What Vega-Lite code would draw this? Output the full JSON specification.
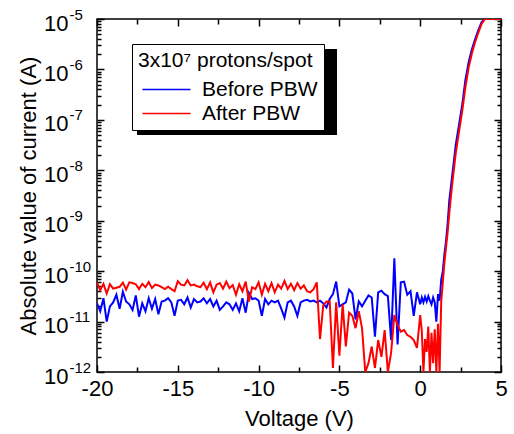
{
  "$schema": "https://vega.github.io/schema/vega-lite/v6.json",
  "width": 404,
  "height": 353,
  "autosize": {"type": "none"},
  "padding": {"left": 97, "top": 19, "right": 13, "bottom": 62},
  "background": "white",
  "config": {
    "font": "Liberation Sans",
    "view": {"stroke": "black", "strokeWidth": 1.5},
    "axis": {"grid": false, "domain": false, "labelFont": "Liberation Sans", "titleFont": "Liberation Sans", "labelColor": "black", "titleColor": "black", "tickColor": "black", "titleFontWeight": "normal", "labelOverlap": false, "labelFlush": false, "labelBound": false, "tickWidth": 1.5},
    "legend": {"labelFont": "Liberation Sans", "titleFont": "Liberation Sans"}
  },
  "data": {"values": [
    {"V":-20.0,"I":2.3e-11,"series":"Before PBW"},{"V":-19.8,"I":1.6e-11,"series":"Before PBW"},{"V":-19.6,"I":2.9e-11,"series":"Before PBW"},{"V":-19.4,"I":1.0e-11,"series":"Before PBW"},{"V":-19.2,"I":2.0e-11,"series":"Before PBW"},{"V":-19.0,"I":2.4e-11,"series":"Before PBW"},{"V":-18.8,"I":3.4e-11,"series":"Before PBW"},{"V":-18.6,"I":1.8e-11,"series":"Before PBW"},{"V":-18.4,"I":3.9e-11,"series":"Before PBW"},{"V":-18.2,"I":2.5e-11,"series":"Before PBW"},
    {"V":-18.0,"I":2.2e-11,"series":"Before PBW"},{"V":-17.8,"I":1.7e-11,"series":"Before PBW"},{"V":-17.6,"I":3.3e-11,"series":"Before PBW"},{"V":-17.4,"I":1.25e-11,"series":"Before PBW"},{"V":-17.2,"I":2.3e-11,"series":"Before PBW"},{"V":-17.0,"I":1.6e-11,"series":"Before PBW"},{"V":-16.8,"I":2.9e-11,"series":"Before PBW"},{"V":-16.6,"I":1.8e-11,"series":"Before PBW"},{"V":-16.4,"I":2.8e-11,"series":"Before PBW"},{"V":-16.2,"I":1.4e-11,"series":"Before PBW"},
    {"V":-16.0,"I":2.5e-11,"series":"Before PBW"},{"V":-15.8,"I":2.6e-11,"series":"Before PBW"},{"V":-15.6,"I":2.9e-11,"series":"Before PBW"},{"V":-15.4,"I":2.4e-11,"series":"Before PBW"},{"V":-15.2,"I":1.3e-11,"series":"Before PBW"},{"V":-15.0,"I":2.6e-11,"series":"Before PBW"},{"V":-14.8,"I":2.7e-11,"series":"Before PBW"},{"V":-14.6,"I":2.2e-11,"series":"Before PBW"},{"V":-14.4,"I":3.0e-11,"series":"Before PBW"},{"V":-14.2,"I":1.9e-11,"series":"Before PBW"},
    {"V":-14.0,"I":2.8e-11,"series":"Before PBW"},{"V":-13.8,"I":2.4e-11,"series":"Before PBW"},{"V":-13.6,"I":2.5e-11,"series":"Before PBW"},{"V":-13.4,"I":2.9e-11,"series":"Before PBW"},{"V":-13.2,"I":2.3e-11,"series":"Before PBW"},{"V":-13.0,"I":2.8e-11,"series":"Before PBW"},{"V":-12.8,"I":2.0e-11,"series":"Before PBW"},{"V":-12.6,"I":2.6e-11,"series":"Before PBW"},{"V":-12.4,"I":1.7e-11,"series":"Before PBW"},{"V":-12.2,"I":2.0e-11,"series":"Before PBW"},
    {"V":-12.0,"I":2.4e-11,"series":"Before PBW"},{"V":-11.8,"I":2.2e-11,"series":"Before PBW"},{"V":-11.6,"I":1.7e-11,"series":"Before PBW"},{"V":-11.4,"I":2.3e-11,"series":"Before PBW"},{"V":-11.2,"I":1.6e-11,"series":"Before PBW"},{"V":-11.0,"I":2.9e-11,"series":"Before PBW"},{"V":-10.8,"I":1.5e-11,"series":"Before PBW"},{"V":-10.6,"I":3.7e-11,"series":"Before PBW"},{"V":-10.4,"I":2.8e-11,"series":"Before PBW"},{"V":-10.2,"I":2.9e-11,"series":"Before PBW"},
    {"V":-10.0,"I":2.6e-11,"series":"Before PBW"},{"V":-9.8,"I":1.3e-11,"series":"Before PBW"},{"V":-9.6,"I":2.8e-11,"series":"Before PBW"},{"V":-9.4,"I":2.2e-11,"series":"Before PBW"},{"V":-9.2,"I":2.6e-11,"series":"Before PBW"},{"V":-9.0,"I":2.4e-11,"series":"Before PBW"},{"V":-8.8,"I":2.6e-11,"series":"Before PBW"},{"V":-8.6,"I":1.8e-11,"series":"Before PBW"},{"V":-8.4,"I":1.2e-11,"series":"Before PBW"},{"V":-8.2,"I":2.4e-11,"series":"Before PBW"},
    {"V":-8.0,"I":2.6e-11,"series":"Before PBW"},{"V":-7.8,"I":2.0e-11,"series":"Before PBW"},{"V":-7.6,"I":1.3e-11,"series":"Before PBW"},{"V":-7.4,"I":2.4e-11,"series":"Before PBW"},{"V":-7.2,"I":2.6e-11,"series":"Before PBW"},{"V":-7.0,"I":2.7e-11,"series":"Before PBW"},{"V":-6.8,"I":2.5e-11,"series":"Before PBW"},{"V":-6.6,"I":2.6e-11,"series":"Before PBW"},{"V":-6.4,"I":2.4e-11,"series":"Before PBW"},{"V":-6.2,"I":2.6e-11,"series":"Before PBW"},
    {"V":-6.0,"I":2.3e-11,"series":"Before PBW"},{"V":-5.8,"I":1.9e-11,"series":"Before PBW"},{"V":-5.6,"I":2.8e-11,"series":"Before PBW"},{"V":-5.4,"I":3.5e-11,"series":"Before PBW"},{"V":-5.2,"I":6.2e-11,"series":"Before PBW"},{"V":-5.0,"I":2.0e-11,"series":"Before PBW"},{"V":-4.8,"I":2.2e-11,"series":"Before PBW"},{"V":-4.6,"I":2.4e-11,"series":"Before PBW"},{"V":-4.4,"I":4.3e-11,"series":"Before PBW"},{"V":-4.2,"I":3.6e-11,"series":"Before PBW"},
    {"V":-4.0,"I":1.1e-11,"series":"Before PBW"},{"V":-3.8,"I":2.5e-11,"series":"Before PBW"},{"V":-3.6,"I":2.0e-11,"series":"Before PBW"},{"V":-3.4,"I":2.6e-11,"series":"Before PBW"},{"V":-3.2,"I":3.3e-11,"series":"Before PBW"},{"V":-3.0,"I":3.0e-11,"series":"Before PBW"},{"V":-2.8,"I":5.0e-12,"series":"Before PBW"},{"V":-2.6,"I":3.8e-11,"series":"Before PBW"},{"V":-2.4,"I":4.1e-11,"series":"Before PBW"},{"V":-2.2,"I":3.5e-11,"series":"Before PBW"},
    {"V":-2.0,"I":3.2e-11,"series":"Before PBW"},{"V":-1.8,"I":4.3e-12,"series":"Before PBW"},{"V":-1.6,"I":1.8e-10,"series":"Before PBW"},{"V":-1.4,"I":3.5e-12,"series":"Before PBW"},{"V":-1.2,"I":6.0e-11,"series":"Before PBW"},{"V":-1.0,"I":6.2e-11,"series":"Before PBW"},{"V":-0.8,"I":3.4e-11,"series":"Before PBW"},{"V":-0.6,"I":4.0e-11,"series":"Before PBW"},{"V":-0.4,"I":1.3e-11,"series":"Before PBW"},{"V":-0.2,"I":3.8e-11,"series":"Before PBW"},
    {"V":0.0,"I":2.2e-11,"series":"Before PBW"},{"V":0.1,"I":3.0e-11,"series":"Before PBW"},{"V":0.2,"I":2.4e-11,"series":"Before PBW"},{"V":0.3,"I":3.1e-11,"series":"Before PBW"},{"V":0.4,"I":2.5e-11,"series":"Before PBW"},{"V":0.5,"I":3.2e-11,"series":"Before PBW"},{"V":0.6,"I":2.6e-11,"series":"Before PBW"},{"V":0.7,"I":2.2e-11,"series":"Before PBW"},{"V":0.8,"I":3.0e-11,"series":"Before PBW"},{"V":0.9,"I":2.4e-11,"series":"Before PBW"},
    {"V":1.0,"I":1.0e-11,"series":"Before PBW"},{"V":1.1,"I":3.5e-11,"series":"Before PBW"},{"V":1.2,"I":2.6e-11,"series":"Before PBW"},{"V":1.3,"I":6.7e-11,"series":"Before PBW"},{"V":1.4,"I":1.0e-10,"series":"Before PBW"},{"V":1.5,"I":2.2e-10,"series":"Before PBW"},{"V":1.6,"I":4.0e-10,"series":"Before PBW"},{"V":1.7,"I":8.9e-10,"series":"Before PBW"},{"V":1.8,"I":2.5e-9,"series":"Before PBW"},{"V":2.0,"I":8.9e-9,"series":"Before PBW"},
    {"V":2.2,"I":3.2e-8,"series":"Before PBW"},{"V":2.4,"I":7.9e-8,"series":"Before PBW"},{"V":2.6,"I":2.0e-7,"series":"Before PBW"},{"V":2.8,"I":6.3e-7,"series":"Before PBW"},{"V":3.0,"I":1.4e-6,"series":"Before PBW"},{"V":3.2,"I":2.5e-6,"series":"Before PBW"},{"V":3.4,"I":4.0e-6,"series":"Before PBW"},{"V":3.6,"I":6.0e-6,"series":"Before PBW"},{"V":3.8,"I":8.7e-6,"series":"Before PBW"},{"V":4.0,"I":1.2e-5,"series":"Before PBW"},
    {"V":4.5,"I":2.0e-5,"series":"Before PBW"},{"V":5.0,"I":3.0e-5,"series":"Before PBW"},

    {"V":-20.0,"I":6.0e-11,"series":"After PBW"},{"V":-19.8,"I":4.2e-11,"series":"After PBW"},{"V":-19.6,"I":5.6e-11,"series":"After PBW"},{"V":-19.4,"I":3.6e-11,"series":"After PBW"},{"V":-19.2,"I":5.5e-11,"series":"After PBW"},{"V":-19.0,"I":4.5e-11,"series":"After PBW"},{"V":-18.8,"I":4.7e-11,"series":"After PBW"},{"V":-18.6,"I":4.9e-11,"series":"After PBW"},{"V":-18.4,"I":5.9e-11,"series":"After PBW"},{"V":-18.2,"I":4.3e-11,"series":"After PBW"},
    {"V":-18.0,"I":6.0e-11,"series":"After PBW"},{"V":-17.8,"I":5.8e-11,"series":"After PBW"},{"V":-17.6,"I":5.5e-11,"series":"After PBW"},{"V":-17.4,"I":4.4e-11,"series":"After PBW"},{"V":-17.2,"I":5.6e-11,"series":"After PBW"},{"V":-17.0,"I":4.8e-11,"series":"After PBW"},{"V":-16.8,"I":6.1e-11,"series":"After PBW"},{"V":-16.6,"I":4.6e-11,"series":"After PBW"},{"V":-16.4,"I":5.4e-11,"series":"After PBW"},{"V":-16.2,"I":5.2e-11,"series":"After PBW"},
    {"V":-16.0,"I":4.8e-11,"series":"After PBW"},{"V":-15.8,"I":4.4e-11,"series":"After PBW"},{"V":-15.6,"I":4.9e-11,"series":"After PBW"},{"V":-15.4,"I":4.4e-11,"series":"After PBW"},{"V":-15.2,"I":4.0e-11,"series":"After PBW"},{"V":-15.0,"I":6.3e-11,"series":"After PBW"},{"V":-14.8,"I":5.4e-11,"series":"After PBW"},{"V":-14.6,"I":5.2e-11,"series":"After PBW"},{"V":-14.4,"I":6.6e-11,"series":"After PBW"},{"V":-14.2,"I":5.2e-11,"series":"After PBW"},
    {"V":-14.0,"I":5.4e-11,"series":"After PBW"},{"V":-13.8,"I":5.0e-11,"series":"After PBW"},{"V":-13.6,"I":4.8e-11,"series":"After PBW"},{"V":-13.4,"I":5.9e-11,"series":"After PBW"},{"V":-13.2,"I":4.4e-11,"series":"After PBW"},{"V":-13.0,"I":6.0e-11,"series":"After PBW"},{"V":-12.8,"I":3.8e-11,"series":"After PBW"},{"V":-12.6,"I":5.4e-11,"series":"After PBW"},{"V":-12.4,"I":5.8e-11,"series":"After PBW"},{"V":-12.2,"I":4.5e-11,"series":"After PBW"},
    {"V":-12.0,"I":6.2e-11,"series":"After PBW"},{"V":-11.8,"I":4.6e-11,"series":"After PBW"},{"V":-11.6,"I":5.3e-11,"series":"After PBW"},{"V":-11.4,"I":3.4e-11,"series":"After PBW"},{"V":-11.2,"I":5.5e-11,"series":"After PBW"},{"V":-11.0,"I":4.0e-11,"series":"After PBW"},{"V":-10.8,"I":6.2e-11,"series":"After PBW"},{"V":-10.6,"I":2.5e-11,"series":"After PBW"},{"V":-10.4,"I":4.8e-11,"series":"After PBW"},{"V":-10.2,"I":4.4e-11,"series":"After PBW"},
    {"V":-10.0,"I":6.0e-11,"series":"After PBW"},{"V":-9.8,"I":3.4e-11,"series":"After PBW"},{"V":-9.6,"I":5.6e-11,"series":"After PBW"},{"V":-9.4,"I":4.0e-11,"series":"After PBW"},{"V":-9.2,"I":5.8e-11,"series":"After PBW"},{"V":-9.0,"I":3.8e-11,"series":"After PBW"},{"V":-8.8,"I":5.4e-11,"series":"After PBW"},{"V":-8.6,"I":4.5e-11,"series":"After PBW"},{"V":-8.4,"I":6.4e-11,"series":"After PBW"},{"V":-8.2,"I":4.4e-11,"series":"After PBW"},
    {"V":-8.0,"I":5.6e-11,"series":"After PBW"},{"V":-7.8,"I":4.2e-11,"series":"After PBW"},{"V":-7.6,"I":5.8e-11,"series":"After PBW"},{"V":-7.4,"I":4.5e-11,"series":"After PBW"},{"V":-7.2,"I":5.2e-11,"series":"After PBW"},{"V":-7.0,"I":4.0e-11,"series":"After PBW"},{"V":-6.8,"I":3.8e-11,"series":"After PBW"},{"V":-6.6,"I":4.4e-11,"series":"After PBW"},{"V":-6.4,"I":6.0e-11,"series":"After PBW"},{"V":-6.2,"I":4.5e-12,"series":"After PBW"},
    {"V":-6.0,"I":2.1e-11,"series":"After PBW"},{"V":-5.8,"I":2.5e-11,"series":"After PBW"},{"V":-5.6,"I":2.5e-11,"series":"After PBW"},{"V":-5.4,"I":1.2e-12,"series":"After PBW"},{"V":-5.2,"I":2.4e-11,"series":"After PBW"},{"V":-5.0,"I":2.1e-12,"series":"After PBW"},{"V":-4.8,"I":2.2e-11,"series":"After PBW"},{"V":-4.6,"I":3.2e-12,"series":"After PBW"},{"V":-4.4,"I":1.5e-11,"series":"After PBW"},{"V":-4.2,"I":1.3e-11,"series":"After PBW"},
    {"V":-4.0,"I":7.4e-12,"series":"After PBW"},{"V":-3.8,"I":1.6e-11,"series":"After PBW"},{"V":-3.6,"I":7.4e-12,"series":"After PBW"},{"V":-3.4,"I":5.0e-13,"series":"After PBW"},{"V":-3.2,"I":1.5e-12,"series":"After PBW"},{"V":-3.0,"I":3.2e-12,"series":"After PBW"},{"V":-2.8,"I":1.2e-12,"series":"After PBW"},{"V":-2.6,"I":4.3e-12,"series":"After PBW"},{"V":-2.4,"I":2.0e-12,"series":"After PBW"},{"V":-2.2,"I":6.8e-12,"series":"After PBW"},
    {"V":-2.0,"I":5.0e-13,"series":"After PBW"},{"V":-1.8,"I":2.4e-12,"series":"After PBW"},{"V":-1.6,"I":1.35e-11,"series":"After PBW"},{"V":-1.4,"I":8.5e-12,"series":"After PBW"},{"V":-1.2,"I":6.3e-12,"series":"After PBW"},{"V":-1.0,"I":6.8e-12,"series":"After PBW"},{"V":-0.8,"I":5.4e-12,"series":"After PBW"},{"V":-0.6,"I":5.0e-12,"series":"After PBW"},{"V":-0.4,"I":4.3e-12,"series":"After PBW"},{"V":-0.2,"I":3.0e-12,"series":"After PBW"},
    {"V":0.0,"I":1.35e-11,"series":"After PBW"},{"V":0.1,"I":6.5e-12,"series":"After PBW"},{"V":0.2,"I":5.0e-13,"series":"After PBW"},{"V":0.3,"I":4.5e-12,"series":"After PBW"},{"V":0.4,"I":2.5e-12,"series":"After PBW"},{"V":0.5,"I":8.0e-12,"series":"After PBW"},{"V":0.6,"I":5.0e-13,"series":"After PBW"},{"V":0.7,"I":6.0e-12,"series":"After PBW"},{"V":0.8,"I":1.5e-12,"series":"After PBW"},{"V":0.9,"I":7.0e-12,"series":"After PBW"},
    {"V":1.0,"I":5.0e-13,"series":"After PBW"},{"V":1.1,"I":9.0e-12,"series":"After PBW"},{"V":1.2,"I":5.0e-13,"series":"After PBW"},{"V":1.3,"I":2.5e-11,"series":"After PBW"},{"V":1.4,"I":6.0e-11,"series":"After PBW"},{"V":1.5,"I":1.5e-10,"series":"After PBW"},{"V":1.6,"I":3.0e-10,"series":"After PBW"},{"V":1.7,"I":6.0e-10,"series":"After PBW"},{"V":1.8,"I":1.4e-9,"series":"After PBW"},{"V":1.9,"I":3.0e-9,"series":"After PBW"},
    {"V":2.0,"I":6.0e-9,"series":"After PBW"},{"V":2.2,"I":2.2e-8,"series":"After PBW"},{"V":2.4,"I":5.8e-8,"series":"After PBW"},{"V":2.6,"I":1.5e-7,"series":"After PBW"},{"V":2.8,"I":4.5e-7,"series":"After PBW"},{"V":3.0,"I":1.1e-6,"series":"After PBW"},{"V":3.2,"I":2.1e-6,"series":"After PBW"},{"V":3.4,"I":3.5e-6,"series":"After PBW"},{"V":3.6,"I":5.4e-6,"series":"After PBW"},{"V":3.8,"I":8.0e-6,"series":"After PBW"},
    {"V":4.0,"I":1.1e-5,"series":"After PBW"},{"V":4.5,"I":2.0e-5,"series":"After PBW"},{"V":5.0,"I":3.0e-5,"series":"After PBW"}
  ]},
  "resolve": {"axis": {"x": "independent", "y": "independent"}},
  "layer": [
    {
      "mark": {"type": "line", "strokeWidth": 2, "clip": true},
      "encoding": {
        "x": {"field": "V", "type": "quantitative", "scale": {"domain": [-20, 5], "nice": false, "zero": false},
          "axis": {"orient": "bottom", "values": [-20, -15, -10, -5, 0, 5], "ticks": false, "labelExpr": "'' + datum.value", "labelFontSize": 22, "labelPadding": 6, "title": "Voltage (V)", "titleFontSize": 22, "titlePadding": 9}},
        "y": {"field": "I", "type": "quantitative", "scale": {"type": "log", "domain": [1e-12, 1e-5], "nice": false, "clamp": true},
          "axis": {"orient": "left", "values": [1e-12, 1e-11, 1e-10, 1e-9, 1e-8, 1e-7, 1e-6, 1e-5], "ticks": false, "labelExpr": "'10'", "labelFontSize": 22, "labelPadding": 29, "labelAlign": "right", "labelBaseline": "middle", "labelOffset": 4, "title": "Absolute value of current (A)", "titleFontSize": 22, "titlePadding": 3}},
        "color": {"field": "series", "type": "nominal", "sort": null,
          "scale": {"domain": ["Before PBW", "After PBW"], "range": ["#0000ff", "#ff0000"]},
          "legend": {"orient": "none", "legendX": 35, "legendY": 25, "title": "3x10⁷ protons/spot", "titleFontSize": 21, "titleFontWeight": "normal", "titleColor": "black", "labelFontSize": 21, "labelColor": "black", "symbolType": "M-1,0H7", "symbolSize": 144, "symbolStrokeWidth": 1.5, "strokeColor": "black", "fillColor": "white", "padding": 6, "rowPadding": 2, "titlePadding": 8, "labelOffset": 43, "zindex": 1, "labelLimit": 400, "titleLimit": 400}}
      }
    },
    {
      "mark": {"type": "line", "opacity": 0},
      "encoding": {
        "x": {"field": "V", "type": "quantitative",
          "axis": {"orient": "bottom", "values": [-20, -17.5, -15, -12.5, -10, -7.5, -5, -2.5, 0, 2.5, 5], "labels": false, "ticks": true, "tickSize": {"condition": {"test": "datum.value % 5 === 0", "value": -7}, "value": -5}, "title": null}},
        "y": {"field": "I", "type": "quantitative",
          "axis": {"orient": "left", "values": [1e-12,2e-12,3e-12,4e-12,5e-12,6e-12,7e-12,8e-12,9e-12,1e-11,2e-11,3e-11,4e-11,5e-11,6e-11,7e-11,8e-11,9e-11,1e-10,2e-10,3e-10,4e-10,5e-10,6e-10,7e-10,8e-10,9e-10,1e-9,2e-9,3e-9,4e-9,5e-9,6e-9,7e-9,8e-9,9e-9,1e-8,2e-8,3e-8,4e-8,5e-8,6e-8,7e-8,8e-8,9e-8,1e-7,2e-7,3e-7,4e-7,5e-7,6e-7,7e-7,8e-7,9e-7,1e-6,2e-6,3e-6,4e-6,5e-6,6e-6,7e-6,8e-6,9e-6,1e-5], "labels": false, "ticks": true, "tickSize": {"condition": {"test": "abs(log(datum.value)/LN10 - round(log(datum.value)/LN10)) < 0.001", "value": -7}, "value": -4}, "title": null}},
        "fill": {"field": "V", "type": "quantitative", "scale": {"range": ["black", "black"]},
          "legend": {"orient": "none", "legendX": 40, "legendY": 30, "direction": "vertical", "title": null, "gradientLength": 86, "gradientThickness": 198, "gradientStrokeColor": "black", "gradientStrokeWidth": 0, "labelExpr": "''", "labelOpacity": 0, "padding": 0, "fillColor": "black", "zindex": 0}},
        "detail": {"field": "series"}
      }
    },
    {
      "mark": {"type": "line", "opacity": 0},
      "encoding": {
        "x": {"field": "V", "type": "quantitative",
          "axis": {"orient": "top", "values": [-20, -17.5, -15, -12.5, -10, -7.5, -5, -2.5, 0, 2.5, 5], "labels": false, "ticks": true, "tickSize": {"condition": {"test": "datum.value % 5 === 0", "value": -7}, "value": -5}, "title": null}},
        "y": {"field": "I", "type": "quantitative",
          "axis": {"orient": "left", "values": [1e-12, 1e-11, 1e-10, 1e-9, 1e-8, 1e-7, 1e-6, 1e-5], "ticks": false, "labelExpr": "'' + round(log(datum.value)/LN10)", "labelFontSize": 15, "labelPadding": 28, "labelAlign": "left", "labelBaseline": "middle", "labelOffset": -5, "title": null}},
        "detail": {"field": "series"}
      }
    },
    {
      "mark": {"type": "line", "opacity": 0},
      "encoding": {
        "x": {"field": "V", "type": "quantitative", "axis": null},
        "y": {"field": "I", "type": "quantitative",
          "axis": {"orient": "right", "values": [1e-12,2e-12,3e-12,4e-12,5e-12,6e-12,7e-12,8e-12,9e-12,1e-11,2e-11,3e-11,4e-11,5e-11,6e-11,7e-11,8e-11,9e-11,1e-10,2e-10,3e-10,4e-10,5e-10,6e-10,7e-10,8e-10,9e-10,1e-9,2e-9,3e-9,4e-9,5e-9,6e-9,7e-9,8e-9,9e-9,1e-8,2e-8,3e-8,4e-8,5e-8,6e-8,7e-8,8e-8,9e-8,1e-7,2e-7,3e-7,4e-7,5e-7,6e-7,7e-7,8e-7,9e-7,1e-6,2e-6,3e-6,4e-6,5e-6,6e-6,7e-6,8e-6,9e-6,1e-5], "labels": false, "ticks": true, "tickSize": {"condition": {"test": "abs(log(datum.value)/LN10 - round(log(datum.value)/LN10)) < 0.001", "value": -7}, "value": -4}, "title": null}},
        "detail": {"field": "series"}
      }
    }
  ]
}
